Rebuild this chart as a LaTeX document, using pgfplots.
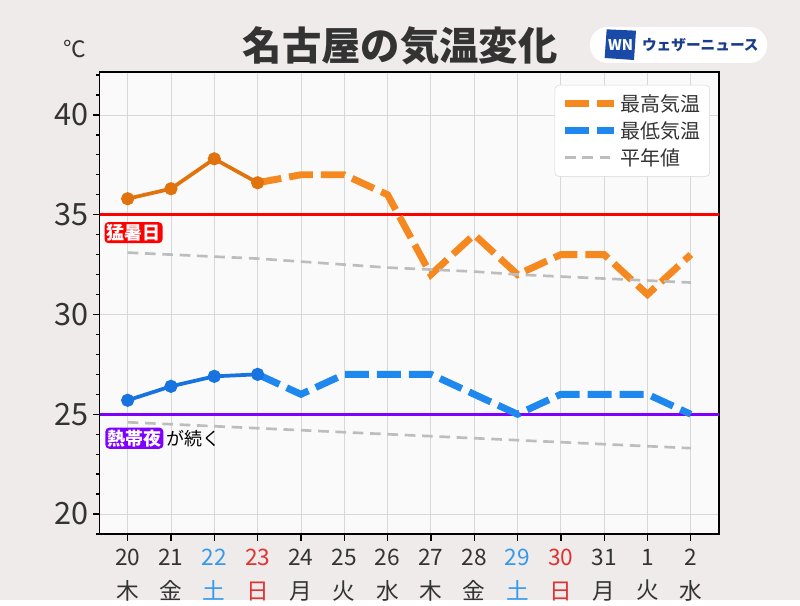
\documentclass[border=0pt]{standalone}
\usepackage{fontspec}
\setmainfont{Noto Sans CJK JP}
\usepackage{pgfplots}
\pgfplotsset{compat=1.18}
\definecolor{bg}{HTML}{EEEBEA}
\definecolor{plotbg}{HTML}{FBFAFB}
\definecolor{gridc}{HTML}{D8D8D8}
\definecolor{maxobs}{HTML}{E0730D}
\definecolor{maxfc}{HTML}{F5891F}
\definecolor{minobs}{HTML}{1673E0}
\definecolor{minfc}{HTML}{1E88EE}
\definecolor{normc}{HTML}{BDBDBD}
\definecolor{hotred}{HTML}{FF0000}
\definecolor{nightp}{HTML}{8000FF}
\definecolor{txt}{HTML}{333333}
\definecolor{dayblue}{HTML}{3399EE}
\definecolor{dayred}{HTML}{E03333}
\definecolor{navy}{HTML}{1A3C8C}
\definecolor{wnblue}{HTML}{1A4AA8}
\begin{document}
\begin{tikzpicture}
\fill[bg] (0pt,0pt) rectangle (600pt,450pt);
% title
\node[text=txt,font=\fontsize{29.5}{32}\selectfont\bfseries] at (300pt,415.5pt) {名古屋の気温変化};
\node[text=txt,font=\fontsize{17}{20}\selectfont] at (56pt,413pt) {℃};
% logo
\fill[white,rounded corners=13pt] (442.5pt,402.75pt) rectangle (575.25pt,429.75pt);
\fill[wnblue] (453.5pt,406.5pt) -- (475.5pt,405pt) -- (477pt,427pt) -- (455pt,428pt) -- cycle;
\node[text=white,font=\fontsize{11}{12}\selectfont\bfseries\itshape] at (465.5pt,416.25pt) {WN};
\node[text=navy,font=\fontsize{11}{13}\selectfont\bfseries,anchor=west] at (478pt,416.25pt) {ウェザーニュース};
\begin{axis}[
  at={(74.625pt,49.5pt)}, anchor=south west,
  scale only axis, width=464.6pt, height=346.5pt,
  xmin=-0.65, xmax=13.65, ymin=19, ymax=42.15,
  axis background/.style={fill=plotbg},
  axis line style={black, line width=1.4pt},
  ytick={20,25,30,35,40},
  minor ytick={19,...,42},
  xtick={0,...,13},
  xticklabels={{20\\木},{21\\金},{\color{dayblue}22\\\color{dayblue}土},{\color{dayred}23\\\color{dayred}日},{24\\月},{25\\火},{26\\水},{27\\木},{28\\金},{\color{dayblue}29\\\color{dayblue}土},{\color{dayred}30\\\color{dayred}日},{31\\月},{1\\火},{2\\水}},
  xticklabel style={align=center, text=txt, font=\fontsize{17}{25}\selectfont, yshift=-3pt},
  yticklabel style={text=txt, font=\fontsize{23}{26}\selectfont},
  /pgf/number format/assume math mode=true,
  xmajorgrids, ymajorgrids,
  major grid style={gridc, line width=0.6pt},
  tick align=outside, tick pos=left,
  major tick length=5pt, minor tick length=2.5pt,
  tick style={black, line width=1pt},
  legend cell align=left,
  legend style={at={(0.9855,0.972)}, anchor=north east, fill=white, draw=gridc, rounded corners=3pt, font=\fontsize{15}{17}\selectfont, text=txt, row sep=2pt, inner sep=5pt},
  legend image code/.code={\draw[#1] (0pt,0pt) -- (37pt,0pt);},
]
\addplot[hotred, line width=2.3pt, forget plot] coordinates {(-0.65,35) (13.65,35)};
\addplot[nightp, line width=2.3pt, forget plot] coordinates {(-0.65,25) (13.65,25)};
\addplot[maxfc, line width=5.2pt, dash pattern=on 18pt off 6pt] coordinates {(3,36.6) (4,37) (5,37) (6,36) (7,32) (8,34) (9,32) (10,33) (11,33) (12,31) (13,33)};
\addlegendentry{最高気温}
\addplot[minfc, line width=5.2pt, dash pattern=on 18pt off 6pt] coordinates {(3,27) (4,26) (5,27) (6,27) (7,27) (8,26) (9,25) (10,26) (11,26) (12,26) (13,25)};
\addlegendentry{最低気温}
\addplot[normc, line width=2pt, dash pattern=on 8pt off 5pt] coordinates {(0,33.1) (1,33.0) (2,32.9) (3,32.8) (4,32.65) (5,32.5) (6,32.35) (7,32.25) (8,32.15) (9,32.0) (10,31.9) (11,31.8) (12,31.7) (13,31.6)};
\addlegendentry{平年値}
\addplot[normc, line width=2pt, dash pattern=on 8pt off 5pt, forget plot] coordinates {(0,24.6) (1,24.5) (2,24.4) (3,24.3) (4,24.2) (5,24.1) (6,24.0) (7,23.9) (8,23.8) (9,23.7) (10,23.6) (11,23.5) (12,23.4) (13,23.3)};
\addplot[maxobs, line width=2.8pt, mark=*, mark size=3.5pt, forget plot] coordinates {(0,35.8) (1,36.3) (2,37.8) (3,36.6)};
\addplot[minobs, line width=2.8pt, mark=*, mark size=3.5pt, forget plot] coordinates {(0,25.7) (1,26.4) (2,26.9) (3,27.0)};
\node[anchor=west, fill=hotred, text=white, rounded corners=3pt, inner sep=1.5pt, font=\fontsize{13.5}{15}\selectfont\bfseries] at (axis cs:-0.54,34.1) {猛暑日};
\node[anchor=west, fill=nightp, text=white, rounded corners=3pt, inner sep=1.5pt, font=\fontsize{13.5}{15}\selectfont\bfseries] (nt) at (axis cs:-0.52,23.8) {熱帯夜};
\node[anchor=west, text=black, inner sep=2pt, font=\fontsize{13.5}{15}\selectfont] at (nt.east) {が続く};
\end{axis}
\end{tikzpicture}
\end{document}
